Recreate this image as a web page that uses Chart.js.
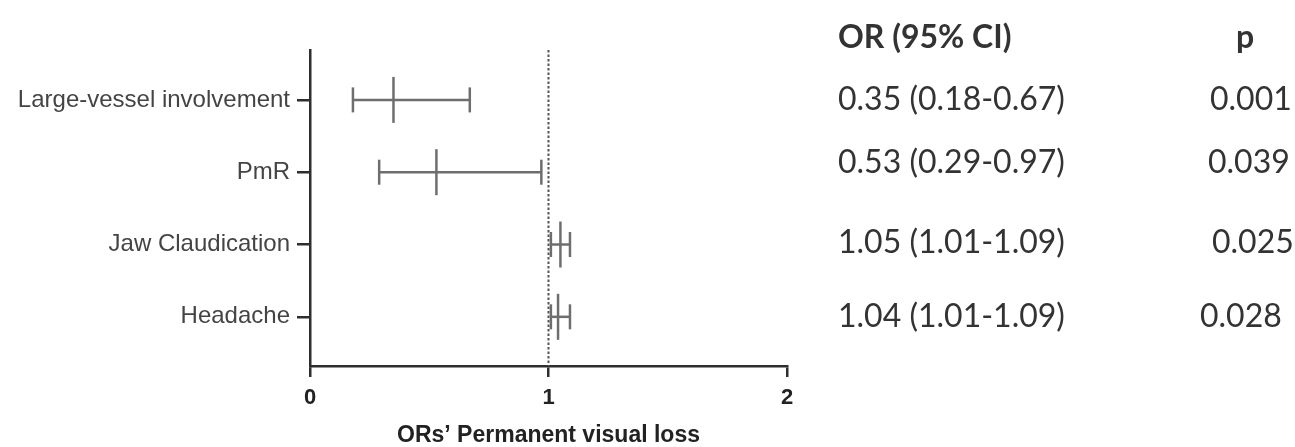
<!DOCTYPE html>
<html>
<head>
<meta charset="utf-8">
<script src="https://cdn.jsdelivr.net/npm/chart.js@4/dist/chart.umd.min.js"></script>
<style>
  html, body { margin: 0; padding: 0; background: #fff; }
  #wrap { position: relative; width: 1295px; height: 447px; }
</style>
</head>
<body>
<div id="wrap"><canvas id="forest"></canvas></div>
<script>
// Forest plot — ORs for permanent visual loss
const rowLabels = ['Large-vessel involvement', 'PmR', 'Jaw Claudication', 'Headache'];
const orValues = [0.35, 0.53, 1.05, 1.04];
const ciLower = [0.18, 0.29, 1.01, 1.01];
const ciUpper = [0.67, 0.97, 1.09, 1.09];
const orText = ['0.35 (0.18-0.67)', '0.53 (0.29-0.97)', '1.05 (1.01-1.09)', '1.04 (1.01-1.09)'];
const pText = ['0.001', '0.039', '0.025', '0.028'];
const xTicks = [0, 1, 2];
const refLine = 1;
const xTitle = 'ORs\u2019 Permanent visual loss';
const headerOR = 'OR (95% CI)';
const headerP = 'p';

const Y_MIN = 0.31;
const Y_MAX = 4.68;
const barColor = '#6e6e6e';
const axisColor = '#2e2e2e';

// whiskers, one line per row
const whiskers = rowLabels.map((_, i) => ({
  type: 'line',
  data: [{ x: ciLower[i], y: i + 1 }, { x: ciUpper[i], y: i + 1 }],
  borderColor: barColor,
  borderWidth: 2.5,
  pointRadius: 0,
}));

const caps = {
  type: 'scatter',
  data: rowLabels.flatMap((_, i) => [{ x: ciLower[i], y: i + 1 }, { x: ciUpper[i], y: i + 1 }]),
  pointStyle: 'line',
  rotation: 90,
  pointRadius: 12.5,
  borderColor: barColor,
  borderWidth: 2.5,
};

const means = {
  type: 'scatter',
  data: rowLabels.map((_, i) => ({ x: orValues[i], y: i + 1 })),
  pointStyle: 'line',
  rotation: 90,
  pointRadius: 23,
  borderColor: barColor,
  borderWidth: 2.5,
};

const dotted = {
  type: 'line',
  data: [{ x: refLine, y: Y_MIN }, { x: refLine, y: Y_MAX }],
  borderColor: '#555',
  borderWidth: 2,
  borderDash: [2.5, 2],
  pointRadius: 0,
};

// right-hand table (OR text and p values), rows follow the y scale
const tablePlugin = {
  id: 'orTable',
  afterDraw(chart) {
    const ctx = chart.ctx;
    const y = chart.scales.y;
    const colX = 838;
    const pX = [1210, 1208, 1212, 1200];
    const rowShift = [0, -10, -2, 0];
    ctx.save();
    ctx.fillStyle = '#333';
    ctx.textBaseline = 'middle';
    ctx.font = 'bold 32px Lato';
    ctx.textAlign = 'left';
    ctx.fillText(headerOR, colX, 38);
    ctx.textAlign = 'center';
    ctx.fillText(headerP, 1245, 38);
    ctx.font = '32px Lato';
    ctx.textAlign = 'left';
    orText.forEach((t, i) => {
      const py = y.getPixelForValue(i + 1) + rowShift[i];
      ctx.fillText(t, colX, py);
      ctx.fillText(pText[i], pX[i], py);
    });
    ctx.restore();
  },
};

new Chart(document.getElementById('forest'), {
  type: 'scatter',
  data: { datasets: [...whiskers, caps, means, dotted] },
  options: {
    responsive: true,
    maintainAspectRatio: false,
    animation: false,
    events: [],
    layout: { padding: { top: 50, right: 508, bottom: 0, left: 0 } },
    plugins: { legend: { display: false }, tooltip: { enabled: false } },
    scales: {
      x: {
        type: 'linear',
        min: 0,
        max: 2,
        afterBuildTicks: (axis) => { axis.ticks = xTicks.map((v) => ({ value: v })); },
        afterFit: (axis) => { axis.height = 81; },
        border: { display: true, color: axisColor, width: 2.5 },
        grid: { drawOnChartArea: false, color: axisColor, lineWidth: 2.5, tickLength: 11 },
        ticks: { color: '#222', padding: 8, font: { family: 'Liberation Sans', size: 22, weight: 'bold' } },
        title: {
          display: true,
          text: xTitle,
          color: '#222',
          padding: { top: 0, bottom: 0 },
          font: { family: 'Liberation Sans', size: 23, weight: 'bold', lineHeight: 1 },
        },
      },
      y: {
        type: 'linear',
        reverse: true,
        min: Y_MIN,
        max: Y_MAX,
        afterBuildTicks: (axis) => { axis.ticks = rowLabels.map((_, i) => ({ value: i + 1 })); },
        afterFit: (axis) => { axis.width = 310; },
        border: { display: true, color: axisColor, width: 2.5 },
        grid: { drawOnChartArea: false, color: axisColor, lineWidth: 2.5, tickLength: 13 },
        ticks: {
          color: '#444',
          padding: 7,
          font: { family: 'Liberation Sans', size: 24 },
          callback: (v) => rowLabels[v - 1] || '',
        },
      },
    },
  },
  plugins: [tablePlugin],
});
</script>
</body>
</html>
